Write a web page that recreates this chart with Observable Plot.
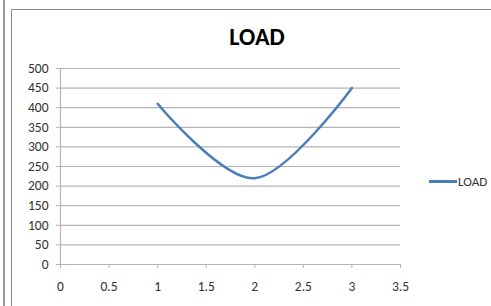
<!DOCTYPE html>
<html>
<head>
<meta charset="utf-8">
<script src="https://cdn.jsdelivr.net/npm/d3@7"></script>
<script src="https://cdn.jsdelivr.net/npm/@observablehq/plot@0.6"></script>
<style>
  html, body { margin: 0; padding: 0; background: #fff; }
  #wrap { position: relative; width: 491px; height: 306px; overflow: hidden; font-family: Carlito, Lato, "Open Sans", sans-serif; }
  #edge { position: absolute; left: 3px; top: 0; width: 2px; height: 306px; background: #9a9a9a; }
  #frame { position: absolute; left: 11px; top: 9px; width: 600px; height: 400px; border: 1.5px solid #8c8c8c; box-sizing: border-box; }
  #title { position: absolute; left: 157px; width: 200px; top: 25px; text-align: center; font-weight: bold; font-size: 24px; color: #000; line-height: 24px; }
  #chart { position: absolute; left: 0; top: 0; }
  #legend { position: absolute; left: 429px; top: 173px; height: 16px; display: flex; align-items: center; font-size: 13px; color: #333; }
  #legend .sw { width: 28px; height: 3px; background: #4a7ebb; margin-right: 1px; }
</style>
</head>
<body>
<div id="wrap">
  <div id="edge"></div>
  <div id="frame"></div>
  <div id="chart"></div>
  <div id="title">LOAD</div>
  <div id="legend"><div class="sw"></div><span>LOAD</span></div>
</div>
<script>
const seriesName = "LOAD";
const xValues = [1, 2, 3];
const loadValues = [410, 220, 450];
const xTicks = [0, 0.5, 1, 1.5, 2, 2.5, 3, 3.5];
const yTicks = [0, 50, 100, 150, 200, 250, 300, 350, 400, 450, 500];

const data = xValues.map((x, i) => ({x, y: loadValues[i]}));

const chart = Plot.plot({
  width: 491,
  height: 306,
  marginLeft: 60,
  marginRight: 91,
  marginTop: 68,
  marginBottom: 42,
  style: {background: "transparent", fontFamily: "Carlito, Lato, 'Open Sans', sans-serif", fontSize: "13.5px", color: "#333"},
  x: {type: "linear", domain: [0, 3.5], label: null},
  y: {type: "linear", domain: [0, 500], label: null},
  marks: [
    Plot.ruleY(yTicks, {stroke: "#b4b4b4", strokeWidth: 1.2, strokeOpacity: 1}),
    Plot.ruleX([0], {stroke: "#b4b4b4", strokeWidth: 1.2, strokeOpacity: 1}),
    Plot.axisX({ticks: xTicks, tickSize: 4, tickPadding: 13, stroke: "#b4b4b4", strokeOpacity: 1, tickFormat: d => String(d), fill: "#333", fontSize: 13.5, label: null}),
    Plot.axisY({ticks: yTicks, tickSize: 4, tickPadding: 8, stroke: "#b4b4b4", strokeOpacity: 1, tickFormat: d => String(d), fill: "#333", fontSize: 13.5, label: null}),
    Plot.line(data, {x: "x", y: "y", curve: "cardinal", tension: 0, stroke: "#4a7ebb", strokeWidth: 2.5})
  ]
});
document.getElementById("chart").appendChild(chart);
</script>
</body>
</html>
